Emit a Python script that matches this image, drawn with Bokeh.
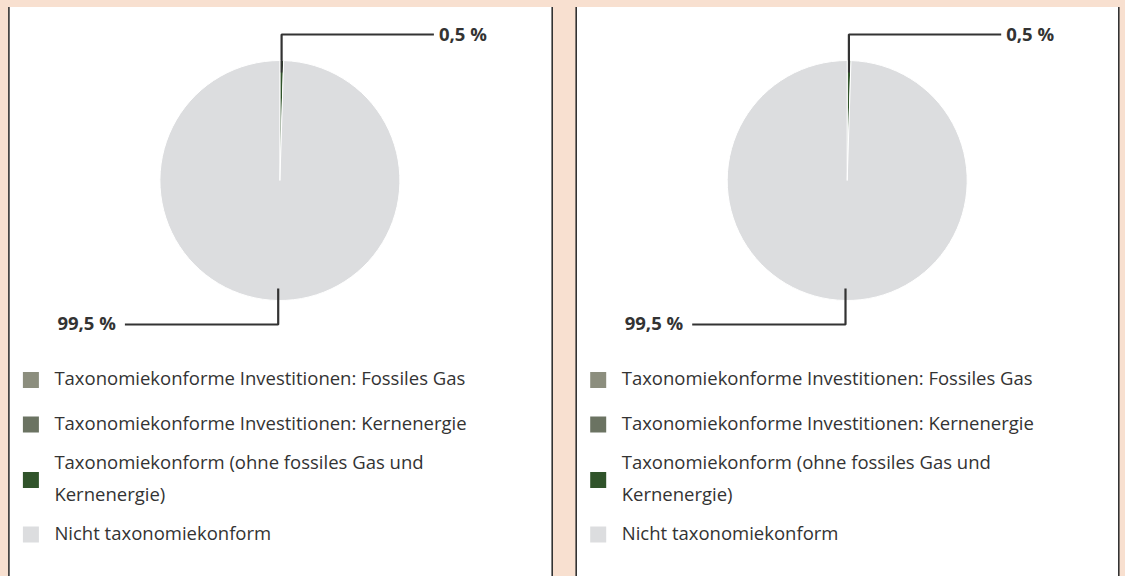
import math
from bokeh.plotting import figure
from bokeh.models import Range1d
from bokeh.core.properties import value
from bokeh.embed import file_html
from bokeh.resources import INLINE

# ---- data ----
categories = [
    "Taxonomiekonforme Investitionen: Fossiles Gas",
    "Taxonomiekonforme Investitionen: Kernenergie",
    "Taxonomiekonform (ohne fossiles Gas und\nKernenergie)",
    "Nicht taxonomiekonform",
]
colors = ["#8C8E7E", "#6B7362", "#30532A", "#DCDDDF"]
values_left = [0.0, 0.0, 0.5, 99.5]
values_right = [0.0, 0.0, 0.5, 99.5]

PEACH = "#F8E0D0"
TEXT = "#333333"
FONT = "Open Sans"

W, H = 1125, 576
p = figure(width=W, height=H, output_backend="svg", toolbar_location=None,
           x_range=Range1d(0, W), y_range=Range1d(0, H),
           min_border=0, x_axis_location=None, y_axis_location=None)
p.grid.visible = False
p.outline_line_color = None
p.background_fill_color = PEACH
p.border_fill_color = PEACH

R = 120
PANEL_TOP = 569.5


def fmt(v):
    return ("%.1f" % v).replace(".", ",") + " %"


def draw_panel(left, right, vals):
    p.quad(left=[left], right=[right], bottom=[-10], top=[PANEL_TOP],
           fill_color="white", line_color=None)
    p.segment(x0=[left, right], y0=[-10, -10], x1=[left, right],
              y1=[PANEL_TOP, PANEL_TOP], line_color=TEXT, line_width=1.6)

    cx, cy = left + 271, 396
    total = sum(vals)
    cum = 0.0
    for v, c in zip(vals, colors):
        if v <= 0:
            continue
        a0 = math.pi / 2 - 2 * math.pi * cum / total
        a1 = math.pi / 2 - 2 * math.pi * (cum + v) / total
        p.wedge(x=[cx], y=[cy], radius=R, radius_units="screen",
                start_angle=[a0], end_angle=[a1], direction="clock",
                fill_color=c, line_color="white", line_width=1)
        mid = (a0 + a1) / 2
        ax = cx + 0.9 * R * math.cos(mid)
        ay = cy + 0.9 * R * math.sin(mid)
        if math.sin(mid) > 0:
            ty = cy + 146
            ex = cx + 154
            p.line(x=[ax, ax, ex], y=[ay, ty, ty], line_color=TEXT, line_width=2.2)
            p.text(x=[ex + 5], y=[ty + 0.7], text=[fmt(v)], text_align="left",
                   text_baseline="middle", text_color=TEXT,
                   text_font=value(FONT), text_font_style="bold", text_font_size="18.5px")
        else:
            ty = cy - 144
            ex = cx - 155
            p.line(x=[ax, ax, ex], y=[ay, ty, ty], line_color=TEXT, line_width=2.2)
            p.text(x=[ex - 9], y=[ty + 2], text=[fmt(v)], text_align="right",
                   text_baseline="middle", text_color=TEXT,
                   text_font=value(FONT), text_font_style="bold", text_font_size="18.5px")
        cum += v

    # legend
    sq_y = [196.5, 152, 96.5, 42]
    item_y = [199, 154, 99, 44]
    p.rect(x=[left + 22] * 4, y=sq_y, width=16, height=16, width_units="screen",
           height_units="screen", fill_color=colors, line_color=None)
    xs, ys, ts = [], [], []
    for cat, y in zip(categories, item_y):
        lines = cat.split("\n")
        n = len(lines)
        for i, ln in enumerate(lines):
            xs.append(left + 45.5)
            ys.append(y + (n - 1) * 16 - i * 32)
            ts.append(ln)
    p.text(x=xs, y=ys, text=ts, text_align="left",
           text_baseline="middle", text_color=TEXT, text_font=value(FONT),
           text_font_size="18.5px")


draw_panel(8.4, 551.7, values_left)
draw_panel(575.7, 1118.3, values_right)

html = file_html(p, INLINE)
html = html.replace("</head>", "<style>body{background:%s;}</style></head>" % PEACH, 1)
open("out.html", "w").write(html)
